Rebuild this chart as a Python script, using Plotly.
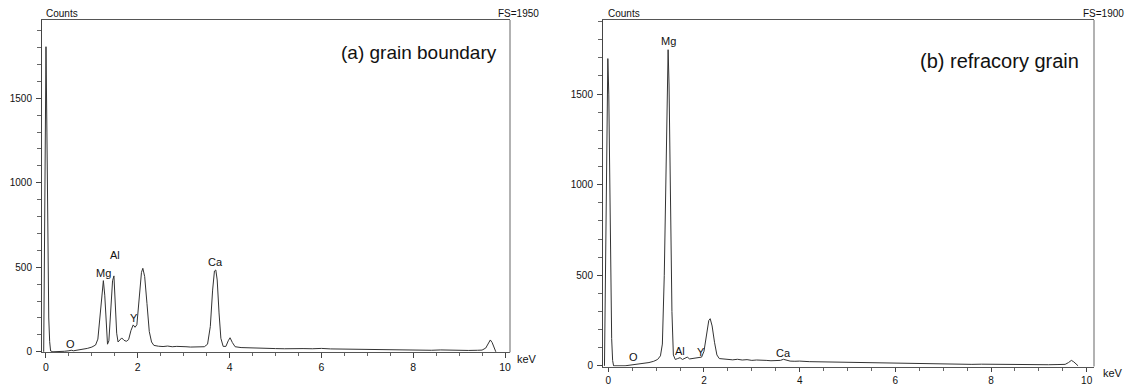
import plotly.graph_objects as go

# ---------------- data ----------------
energy_a = [-0.05, -0.03, -0.015, 0.0, 0.02, 0.04, 0.06, 0.08, 0.10, 0.15, 0.35, 0.40, 0.50, 0.55,
            0.60, 0.70, 0.80, 0.90, 1.00, 1.08, 1.13, 1.17, 1.21, 1.25, 1.28, 1.31, 1.34, 1.37,
            1.41, 1.45, 1.48, 1.51, 1.54, 1.57, 1.61, 1.65, 1.70, 1.75, 1.80, 1.85, 1.90, 1.94,
            1.98, 2.03, 2.08, 2.11, 2.15, 2.20, 2.25, 2.30, 2.35, 2.45, 2.55, 2.65, 2.75, 2.85,
            2.95, 3.05, 3.15, 3.25, 3.35, 3.45, 3.52, 3.58, 3.63, 3.67, 3.70, 3.73, 3.77, 3.81,
            3.86, 3.92, 3.97, 4.01, 4.06, 4.12, 4.25, 4.40, 4.60, 4.80, 5.00, 5.20, 5.40, 5.60,
            5.80, 6.00, 6.20, 6.40, 6.60, 6.80, 7.00, 7.20, 7.40, 7.60, 7.80, 8.00, 8.20, 8.40,
            8.60, 8.80, 9.00, 9.20, 9.40, 9.50, 9.58, 9.64, 9.68, 9.72, 9.76, 9.80]
counts_a = [0, 850, 1790, 1805, 1300, 600, 200, 60, 5, 0, 0, 3, 6, 9,
            6, 10, 14, 20, 28, 40, 75, 190, 350, 421, 335, 150, 45, 65,
            260, 420, 449, 305, 110, 58, 68, 82, 68, 62, 72, 125, 159, 145,
            160, 310, 470, 494, 445, 285, 120, 58, 38, 33, 31, 34, 30, 32,
            29, 30, 28, 29, 27, 30, 45, 150, 365, 478, 484, 425, 230, 80,
            32, 32, 65, 83, 55, 30, 25, 23, 22, 20, 19, 18, 20, 19,
            18, 20, 17, 16, 15, 16, 14, 13, 12, 13, 11, 11, 10, 9,
            11, 9, 10, 8, 9, 10, 22, 55, 70, 55, 22, 0]

energy_b = [-0.08, -0.06, -0.03, -0.01, 0.01, 0.04, 0.07, 0.09, 0.11, 0.35, 0.45, 0.55, 0.65,
            0.75, 0.85, 0.95, 1.03, 1.09, 1.13, 1.17, 1.20, 1.23, 1.25, 1.27, 1.30, 1.33, 1.36,
            1.40, 1.45, 1.50, 1.55, 1.60, 1.65, 1.70, 1.75, 1.80, 1.85, 1.90, 1.95, 2.00, 2.05,
            2.10, 2.13, 2.17, 2.22, 2.27, 2.32, 2.40, 2.50, 2.60, 2.70, 2.80, 2.90, 3.00, 3.10,
            3.20, 3.30, 3.40, 3.50, 3.60, 3.66, 3.72, 3.80, 3.90, 4.00, 4.20, 4.40, 4.60, 4.80,
            5.00, 5.20, 5.40, 5.60, 5.80, 6.00, 6.20, 6.40, 6.60, 6.80, 7.00, 7.20, 7.40, 7.60,
            7.80, 8.00, 8.20, 8.40, 8.60, 8.80, 9.00, 9.20, 9.40, 9.55, 9.62, 9.68, 9.73, 9.78,
            9.82]
counts_b = [0, 500, 1500, 1696, 1500, 700, 150, 30, 0, 0, 3, 6, 8,
            12, 18, 25, 35, 55, 120, 500, 1000, 1550, 1745, 1550, 900, 300, 60,
            35, 40, 45, 35, 42, 48, 38, 40, 38, 42, 45, 48, 80, 170,
            250, 260, 220, 130, 60, 40, 38, 35, 33, 36, 32, 34, 30, 32,
            29, 30, 28, 27, 30, 36, 32, 26, 25, 26, 23, 22, 20, 19,
            18, 19, 16, 17, 14, 13, 14, 11, 12, 10, 11, 9, 10, 8,
            9, 8, 9, 7, 8, 6, 7, 6, 7, 8, 18, 30, 22, 8,
            0]

peak_labels_a = ["O", "Mg", "Al", "Y", "Ca"]
peak_x_a = [0.54, 1.25, 1.50, 1.92, 3.70]
peak_y_a = [46, 465, 573, 202, 530]

peak_labels_b = ["O", "Mg", "Al", "Y", "Ca"]
peak_x_b = [0.53, 1.25, 1.50, 1.94, 3.66]
peak_y_b = [49, 1795, 80, 77, 71]

titles = ["(a) grain boundary", "(b) refracory grain"]
full_scale = ["FS=1950", "FS=1900"]

# ---------------- figure ----------------
W, H = 1138, 387
LINE = "#333333"
FONT = "Liberation Sans, Arial, sans-serif"

fig = go.Figure()
fig.add_trace(go.Scatter(x=energy_a, y=counts_a, mode="lines", xaxis="x", yaxis="y",
                         line=dict(color=LINE, width=1), showlegend=False, hoverinfo="skip"))
fig.add_trace(go.Scatter(x=energy_b, y=counts_b, mode="lines", xaxis="x2", yaxis="y2",
                         line=dict(color=LINE, width=1), showlegend=False, hoverinfo="skip"))


def xa(domain, rng, anchor, ticklen=5, size=10.5):
    return dict(domain=domain, range=rng, anchor=anchor, showgrid=False, zeroline=False,
                automargin=False,
                showline=True, linecolor="#555555", linewidth=1, mirror=True,
                ticks="outside", ticklen=ticklen, tickcolor="#444444", tickwidth=1,
                ticklabelstandoff=0,
                tick0=0, dtick=2, tickfont=dict(family=FONT, size=size, color="#111"),
                minor=dict(dtick=0.5, tick0=0, ticks="outside", ticklen=3, tickcolor="#666666",
                           showgrid=False))


def ya(domain, rng, anchor):
    return dict(domain=domain, range=rng, anchor=anchor, showgrid=False, zeroline=False,
                automargin=False,
                showline=True, linecolor="#444444", linewidth=1, mirror=False,
                ticks="outside", ticklen=5, tickcolor="#444444", tickwidth=1,
                ticklabelstandoff=2,
                tick0=0, dtick=500, tickfont=dict(family=FONT, size=10, color="#111"),
                minor=dict(dtick=100, tick0=0, ticks="outside", ticklen=4, tickcolor="#666666",
                           showgrid=False))


xd_a = [42 / W, 510 / W]
yd_a = [(H - 352.3) / H, (H - 20) / H]
xd_b = [603 / W, 1094 / W]
yd_b = [(H - 366.5) / H, (H - 20) / H]

fig.update_layout(
    width=W, height=H, margin=dict(l=0, r=0, t=0, b=0, autoexpand=False),
    paper_bgcolor="white", plot_bgcolor="white",
    font=dict(family=FONT, size=10, color="#111"),
    xaxis=xa(xd_a, [-0.087, 10.109], "y"),
    yaxis=ya(yd_a, [-3, 1963], "x"),
    xaxis2=xa(xd_b, [-0.111, 10.153], "y2", ticklen=4, size=10),
    yaxis2=ya(yd_b, [-3.8, 1909], "x2"),
)

shapes = []
# right edges drawn in a lighter gray
for xd, yd in [(xd_a, yd_a), (xd_b, yd_b)]:
    shapes.append(dict(type="line", xref="paper", yref="paper", x0=xd[1], x1=xd[1],
                       y0=yd[0], y1=yd[1], line=dict(color="#999999", width=1.5)))
fig.update_layout(shapes=shapes)

ann = []
for lab, px, py in zip(peak_labels_a, peak_x_a, peak_y_a):
    ann.append(dict(x=px, y=py, xref="x", yref="y", text=lab, showarrow=False,
                    font=dict(family=FONT, size=11, color="#111")))
for lab, px, py in zip(peak_labels_b, peak_x_b, peak_y_b):
    ann.append(dict(x=px, y=py, xref="x2", yref="y2", text=lab, showarrow=False,
                    font=dict(family=FONT, size=11, color="#111")))

# panel texts (paper coordinates from pixels)
def P(px, py):
    return px / W, (H - py) / H

for (tx, ty), txt, sz, xa_ in [
    (P(499, 53), titles[0], 19, "right"),
    (P(1081, 61), titles[1], 20, "right"),
    (P(44, 13), "Counts", 10, "left"),
    (P(606, 13), "Counts", 10, "left"),
    (P(541, 13), full_scale[0], 10, "right"),
    (P(1126, 13), full_scale[1], 10, "right"),
    (P(527, 359), "keV", 11, "center"),
    (P(1113, 373), "keV", 11, "center"),
]:
    ann.append(dict(x=tx, y=ty, xref="paper", yref="paper", text=txt, showarrow=False,
                    xanchor=xa_, yanchor="middle", font=dict(family=FONT, size=sz, color="#111")))

fig.update_layout(annotations=ann)
fig.write_html("out.html")
